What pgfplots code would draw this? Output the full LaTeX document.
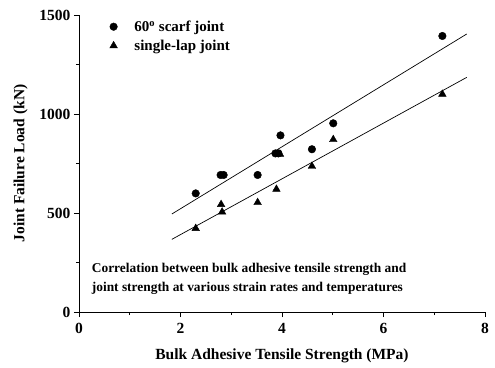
\documentclass[border=0pt]{standalone}
\usepackage{fontspec}
\setmainfont{Liberation Serif}
\usepackage{pgfplots}
\pgfplotsset{compat=1.18}
\begin{document}
\begin{tikzpicture}
\useasboundingbox (-79pt,-55pt) rectangle (416pt,312pt);
\begin{axis}[
  at={(0,0)}, anchor=south west,
  scale only axis, width=406pt, height=297pt,
  xmin=0, xmax=8, ymin=0, ymax=1500,
  axis x line*=bottom, axis y line*=left,
  axis line style={line width=0.9pt},
  xtick={0,2,4,6,8}, ytick={0,500,1000,1500},
  minor x tick num=1, minor y tick num=1,
  tick align=outside,
  major tick length=5pt, minor tick length=3pt,
  every tick/.style={line width=0.9pt, black},
  tick label style={font=\fontsize{15.5}{17}\selectfont\bfseries},
  xticklabel style={yshift=-3pt},
  /pgf/number format/assume math mode=true,
  /pgf/number format/set thousands separator={},
  label style={font=\fontsize{15.5}{17}\selectfont\bfseries},
  xlabel={Bulk Adhesive Tensile Strength (MPa)},
  ylabel={Joint Failure Load (kN)},
  xlabel style={yshift=-8pt},
  ylabel style={yshift=5pt},
  clip=false,
  legend style={draw=none, fill=none, at={(0.068,0.995)}, anchor=north west,
    font=\fontsize{15}{17}\selectfont\bfseries, row sep=3pt,
    legend cell align=left,
    /tikz/every odd column/.style={column sep=15pt}},
  legend image code/.code={\draw[#1] plot coordinates {(0pt,0pt)};},
]
\addplot[only marks, mark=*, mark size=3.8pt, black] coordinates {
(2.30,599) (2.79,692) (2.85,692) (3.52,692) (3.87,801) (3.93,801)
(3.97,892) (4.59,822) (5.01,953) (7.16,1394)};
\addlegendentry{60\textsuperscript{o} scarf joint}
\addplot[only marks, mark=triangle*, mark size=4.4pt, black] coordinates {
(2.30,422) (2.80,543) (2.82,505) (3.52,553) (3.89,620) (3.96,797)
(4.59,736) (5.01,871) (7.16,1100)};
\addlegendentry{single-lap joint}
\addplot[black, line width=0.7pt, forget plot] coordinates {(1.83,495) (7.64,1404)};
\addplot[black, line width=0.7pt, forget plot] coordinates {(1.83,367) (7.64,1185)};
\node[anchor=west, align=left, font=\fontsize{13.4}{19}\selectfont\bfseries, inner sep=0pt]
  at (axis cs:0.25,169) {Correlation between bulk adhesive tensile strength and\\joint strength at various strain rates and temperatures};
\end{axis}
\end{tikzpicture}
\end{document}
